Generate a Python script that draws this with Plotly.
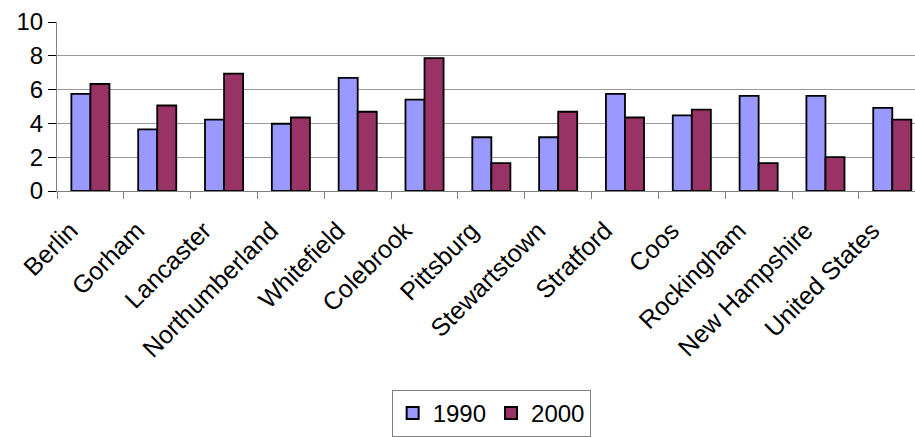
import plotly.graph_objects as go

# Category names along the x axis
places = ["Berlin", "Gorham", "Lancaster", "Northumberland", "Whitefield",
          "Colebrook", "Pittsburg", "Stewartstown", "Stratford", "Coos",
          "Rockingham", "New Hampshire", "United States"]

# Values per year
values_1990 = [5.75, 3.65, 4.22, 3.98, 6.69, 5.41, 3.18, 3.18, 5.75, 4.47, 5.63, 5.63, 4.92]
values_2000 = [6.33, 5.06, 6.94, 4.35, 4.69, 7.86, 1.65, 4.69, 4.35, 4.82, 1.65, 2.00, 4.22]

y_ticks = [0, 2, 4, 6, 8, 10]

FONT = "Liberation Sans, Arial, sans-serif"

fig = go.Figure()
fig.add_trace(go.Bar(
    name="1990", x=places, y=values_1990,
    marker=dict(color="#9999FF", line=dict(color="#000000", width=1.8)),
))
fig.add_trace(go.Bar(
    name="2000", x=places, y=values_2000,
    marker=dict(color="#993366", line=dict(color="#000000", width=1.8)),
))

fig.update_layout(
    width=915, height=437,
    margin=dict(l=57, r=0, t=22, b=245),
    paper_bgcolor="white", plot_bgcolor="white",
    barmode="group", bargap=0.43, bargroupgap=0.0,
    font=dict(family=FONT, size=24, color="#000000"),
    showlegend=True,
    legend=dict(
        orientation="h", x=0.506, xanchor="center", y=-1.18, yanchor="top",
        bordercolor="#808080", borderwidth=1, bgcolor="white",
        font=dict(family=FONT, size=24, color="#000000"),
        itemsizing="constant",
    ),
)

fig.update_xaxes(
    type="category", range=[-0.5, 12.34],
    tickangle=-45, tickfont=dict(family=FONT, size=25, color="#000000"),
    ticklabelstandoff=14, ticklabelshift=-20,
    showline=True, linecolor="#808080", linewidth=1,
    ticks="outside", tickson="boundaries", ticklen=7, tickcolor="#808080",
    showgrid=False, automargin=False,
)
fig.update_yaxes(
    range=[0, 10], tickvals=y_ticks,
    tickfont=dict(family=FONT, size=24, color="#000000"),
    showline=True, linecolor="#808080", linewidth=1,
    ticks="outside", ticklen=8, tickcolor="#000000",
    showgrid=True, gridcolor="#999999", gridwidth=1,
    zeroline=False, automargin=False,
)

fig.write_html("out.html")
